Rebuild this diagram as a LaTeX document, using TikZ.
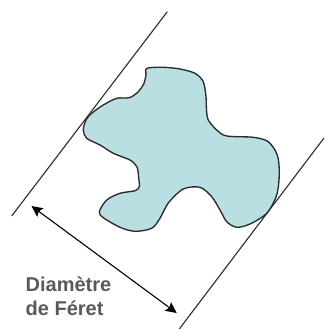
\documentclass[tikz,border=0pt]{standalone}
\usepackage{fontspec}
\setmainfont{Liberation Sans}
\usetikzlibrary{arrows.meta}
\definecolor{blobfill}{HTML}{B9DFE3}
\definecolor{blobline}{HTML}{2B2B2B}
\definecolor{labelgrey}{HTML}{595959}
\tikzset{
  px/.style={x=1pt,y=-1pt},
  tangent/.style={draw=blobline,line width=1.1pt},
  measure/.style={draw=black,line width=1.1pt,{Stealth[length=11pt,width=10.5pt,inset=2pt]}-{Stealth[length=11pt,width=10.5pt,inset=2pt]}},
  blob/.style={draw=blobline,fill=blobfill,line width=1.35pt,line join=round},
  feretlabel/.style={text=labelgrey,font=\fontsize{20}{22}\selectfont\bfseries,anchor=base west,inner sep=0pt}
}
\begin{document}
\begin{tikzpicture}[px]
\useasboundingbox (0,0) rectangle (324,329);
\coordinate (la) at (167.3,11.7);
\coordinate (lb) at (11.7,216);
\coordinate (ra) at (324,138);
\coordinate (rb) at (179.3,329);
\coordinate (aa) at (31.5,206);
\coordinate (ab) at (176.7,313);
\draw[tangent] (la) -- (lb);
\draw[tangent] (ra) -- (rb);
\draw[blob] plot[smooth cycle,tension=0.5] coordinates {
(147,68.3)(146,75)(144,83.3)(138.3,91.7)(129.3,97.7)(116.7,98.3)(103.3,105)(91.7,113.3)(86,120)(83.3,130)(86.7,138.3)(100,145)(113.3,153.3)(130,160)(137,167)(138.7,178)(139.3,186.7)(135,190.7)(120,193.3)(106.7,200)(99.3,211.7)(103.3,217.7)(120,227.3)(135,231.3)(151.7,228.3)(160,218.3)(168.3,203)(183.3,189)(200,187.3)(211.7,196.7)(220,210)(226.7,221.7)(236.7,227.3)(250,224)(266.7,213.3)(276.7,195)(279.3,173.3)(277.3,155)(268.3,141.7)(253.3,137.3)(226.7,136)(216.7,130)(208.3,120)(206.5,110)(206,96.7)(203.3,81.7)(195,73.3)(180,69)(163.3,67.3)};
\draw[measure] (aa) -- (ab);
\node[feretlabel] (t1) at (25.5,291.5) {Diamètre};
\node[feretlabel] (t2) at (25.5,315) {de Féret};
\end{tikzpicture}
\end{document}
